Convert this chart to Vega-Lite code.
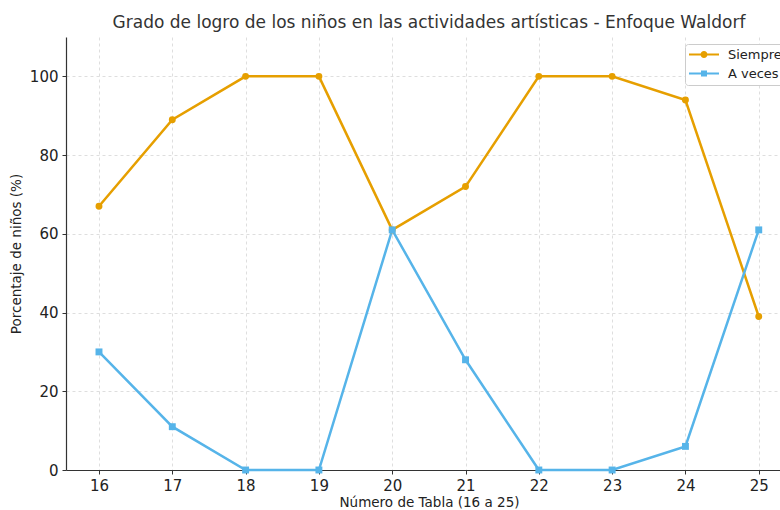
{
  "$schema": "https://vega.github.io/schema/vega-lite/v6.json",
  "autosize": "none",
  "width": 714,
  "height": 433,
  "padding": {"left": 66, "top": 37, "right": 0, "bottom": 40},
  "background": "white",
  "config": {
    "font": "DejaVu Sans",
    "view": {"stroke": null},
    "axis": {
      "domainColor": "#333333",
      "domainWidth": 1.2,
      "tickColor": "#333333",
      "tickSize": 4,
      "labelFontSize": 15,
      "labelColor": "#222222",
      "titleFontSize": 13.5,
      "titleFontWeight": "normal",
      "titleColor": "#222222",
      "gridColor": "#d6d6d6",
      "gridDash": [3, 3],
      "gridWidth": 0.8
    }
  },
  "title": {
    "text": "Grado de logro de los niños en las actividades artísticas - Enfoque Waldorf",
    "fontSize": 17,
    "fontWeight": "normal",
    "color": "#333333",
    "anchor": "middle",
    "dx": 6,
    "offset": 5
  },
  "data": {
    "values": [
      {"tabla": 16, "serie": "Siempre", "valor": 67},
      {"tabla": 17, "serie": "Siempre", "valor": 89},
      {"tabla": 18, "serie": "Siempre", "valor": 100},
      {"tabla": 19, "serie": "Siempre", "valor": 100},
      {"tabla": 20, "serie": "Siempre", "valor": 61},
      {"tabla": 21, "serie": "Siempre", "valor": 72},
      {"tabla": 22, "serie": "Siempre", "valor": 100},
      {"tabla": 23, "serie": "Siempre", "valor": 100},
      {"tabla": 24, "serie": "Siempre", "valor": 94},
      {"tabla": 25, "serie": "Siempre", "valor": 39},
      {"tabla": 16, "serie": "A veces", "valor": 30},
      {"tabla": 17, "serie": "A veces", "valor": 11},
      {"tabla": 18, "serie": "A veces", "valor": 0},
      {"tabla": 19, "serie": "A veces", "valor": 0},
      {"tabla": 20, "serie": "A veces", "valor": 61},
      {"tabla": 21, "serie": "A veces", "valor": 28},
      {"tabla": 22, "serie": "A veces", "valor": 0},
      {"tabla": 23, "serie": "A veces", "valor": 0},
      {"tabla": 24, "serie": "A veces", "valor": 6},
      {"tabla": 25, "serie": "A veces", "valor": 61}
    ]
  },
  "encoding": {
    "x": {
      "field": "tabla",
      "type": "quantitative",
      "scale": {"domain": [15.55, 25.29], "nice": false, "zero": false},
      "axis": {
        "values": [16, 17, 18, 19, 20, 21, 22, 23, 24, 25],
        "format": "d",
        "title": "Número de Tabla (16 a 25)",
        "titleX": 363,
        "titlePadding": 2,
        "labelPadding": 4
      }
    },
    "y": {
      "field": "valor",
      "type": "quantitative",
      "scale": {"domain": [0, 110], "nice": false},
      "axis": {
        "values": [0, 20, 40, 60, 80, 100],
        "title": "Porcentaje de niños (%)",
        "titlePadding": 6,
        "labelPadding": 4
      }
    },
    "color": {
      "field": "serie",
      "type": "nominal",
      "scale": {"domain": ["Siempre", "A veces"], "range": ["#E69F00", "#56B4E9"]},
      "legend": {
        "title": null,
        "orient": "none",
        "legendX": 619,
        "legendY": 7,
        "labelFontSize": 13,
        "labelColor": "#222222",
        "symbolType": "M-3,-0.2H3V0.2H-3Z M-0.7,0A0.7,0.7 0 1,1 0.7,0A0.7,0.7 0 1,1 -0.7,0Z",
        "symbolSize": 100,
        "symbolStrokeWidth": 0,
        "rowPadding": 5,
        "padding": 4,
        "strokeColor": "#cccccc",
        "fillColor": "white",
        "cornerRadius": 3,
        "labelOffset": 26,
        "encode": {
          "symbols": {
            "update": {
              "shape": {"signal": "datum.value === 'Siempre' ? 'M-3,-0.2H3V0.2H-3Z M-0.7,0A0.7,0.7 0 1,1 0.7,0A0.7,0.7 0 1,1 -0.7,0Z' : 'M-3,-0.2H3V0.2H-3Z M-0.6,-0.6H0.6V0.6H-0.6Z'"},
              "fill": {"signal": "datum.value === 'Siempre' ? '#E69F00' : '#56B4E9'"},
              "opacity": {"value": 1},
              "x": {"value": 15}
            }
          }
        }
      }
    }
  },
  "layer": [
    {
      "mark": {"type": "line", "strokeWidth": 2.5},
      "encoding": {}
    },
    {
      "mark": {"type": "point", "filled": true, "size": 48, "opacity": 1},
      "encoding": {
        "shape": {
          "condition": {"test": "datum.serie === 'Siempre'", "value": "circle"},
          "value": "square"
        }
      }
    }
  ]
}
